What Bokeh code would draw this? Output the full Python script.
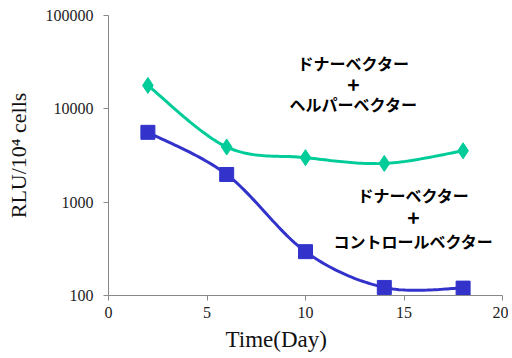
import numpy as np
from bokeh.plotting import figure
from bokeh.models import (FixedTicker, NumeralTickFormatter, Label, Range1d,
                          LinearAxis, LogAxis, Title)
from bokeh.embed import file_html
from bokeh.resources import INLINE

days = [2, 6, 10, 14, 18]
helper = [17800, 3900, 3000, 2600, 3550]
control = [5600, 1980, 295, 122, 120]
x_ticks = [0, 5, 10, 15, 20]
y_ticks = [100, 1000, 10000, 100000]
label_helper = ["ドナーベクター", "+", "ヘルパーベクター"]
label_control = ["ドナーベクター", "+", "コントロールベクター"]
x_title = "Time(Day)"
y_title = "RLU/10⁴ cells"

GREEN = "#00CC99"
BLUE = "#3333CC"


def smooth(xs, ys, n=30):
    # Catmull-Rom style smoothing in (x, log y) space, like Excel's smoothed line
    xs = np.asarray(xs, float)
    ly = np.log10(np.asarray(ys, float))
    px = np.concatenate([[xs[0]], xs, [xs[-1]]])
    py = np.concatenate([[ly[0]], ly, [ly[-1]]])
    ox, oy = [], []
    for i in range(1, len(px) - 2):
        p0, p1, p2, p3 = (np.array([px[j], py[j]]) for j in (i - 1, i, i + 1, i + 2))
        c1 = p1 + (p2 - p0) / 6.0
        c2 = p2 - (p3 - p1) / 6.0
        t = np.linspace(0, 1, n)[:, None]
        b = ((1 - t) ** 3) * p1 + 3 * ((1 - t) ** 2) * t * c1 + 3 * (1 - t) * t ** 2 * c2 + t ** 3 * p2
        ox.extend(b[:, 0]); oy.extend(b[:, 1])
    return ox, list(10 ** np.array(oy))


p = figure(width=508, height=356, output_backend="svg", toolbar_location=None,
           x_range=Range1d(0, 20), y_range=Range1d(100, 100000), y_axis_type="log",
           x_axis_location=None, y_axis_location=None,
           min_border_left=108, min_border_right=6, min_border_top=15, min_border_bottom=20)
p.outline_line_color = None
p.grid.grid_line_color = None

common = dict(axis_line_color="#888888", major_tick_line_color="#888888",
              major_tick_in=0, major_tick_out=5, minor_tick_line_color=None,
              major_label_text_color="#222222", major_label_text_font_style="normal",
              axis_label_text_font="Liberation Serif", axis_label_text_font_style="normal",
              axis_label_text_color="#111111")

xaxis = LinearAxis(ticker=FixedTicker(ticks=x_ticks), major_label_standoff=6,
                   major_label_text_font="Times New Roman", major_label_text_font_size="12pt",
                   **common)
yaxis = LogAxis(ticker=FixedTicker(ticks=y_ticks), formatter=NumeralTickFormatter(format="0"),
                major_label_standoff=10, axis_label=y_title, axis_label_standoff=12,
                major_label_text_font="serif", major_label_text_font_size="16px",
                axis_label_text_font_size="22px", **common)
p.add_layout(xaxis, "below")
p.add_layout(yaxis, "left")
p.add_layout(Title(text=x_title, align="left", offset=117, standoff=9,
                   text_font="Liberation Serif", text_font_size="23px",
                   text_font_style="normal", text_color="#111111"), "below")

sx, sy = smooth(days, helper)
p.line(sx, sy, line_color=GREEN, line_width=3)
p.scatter(days, helper, marker="diamond", size=16, color=GREEN)

sx, sy = smooth(days, control)
p.line(sx, sy, line_color=BLUE, line_width=3)
p.scatter(days, control, marker="square", size=14, color=BLUE)


def block(lines, x, ys):
    for t, y in zip(lines, ys):
        p.add_layout(Label(x=x, y=y, text=t, text_align="center", text_baseline="middle",
                           text_font="Noto Sans CJK JP", text_font_style="bold",
                           text_font_size="21px" if t == "+" else "16px", text_color="#000000"))


block(label_helper, 12.44, [31300, 17800, 11400])
block(label_control, 15.48, [1180, 684, 387])

open("out.html", "w").write(file_html(p, INLINE))
